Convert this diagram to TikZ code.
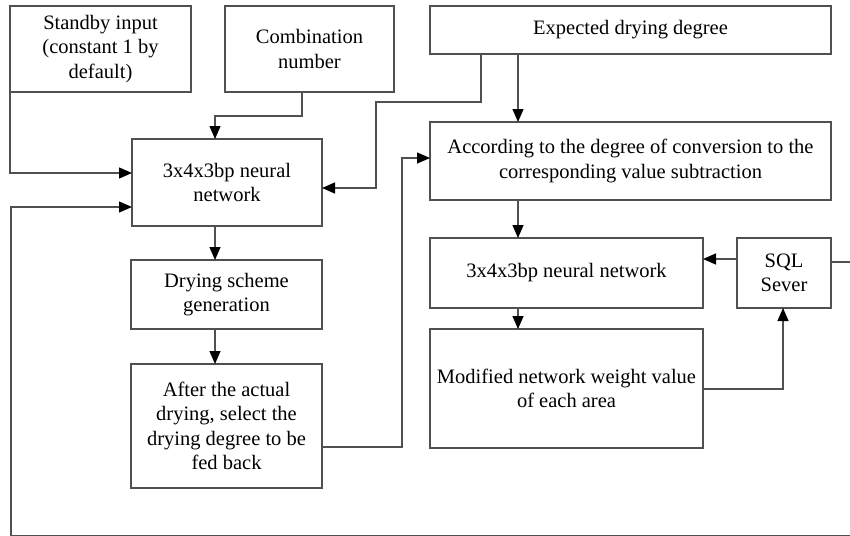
\documentclass[tikz,border=0pt]{standalone}
\usepackage{fontspec}
\setmainfont{Liberation Serif}
\usetikzlibrary{arrows.meta}
\definecolor{ln}{HTML}{505050}
\begin{document}
\begin{tikzpicture}[x=1pt,y=-1pt,
  box/.style={draw=ln, line width=1.3pt, inner sep=0pt, outer sep=0pt, align=center,
    font=\fontsize{20.5}{24.5}\selectfont, text=black},
  arr/.style={draw=ln, line width=1.3pt, -{Triangle[length=13pt,width=11pt,color=black]}},
  ln/.style={draw=ln, line width=1.3pt}]
\useasboundingbox (0,0) rectangle (850,535);
\clip (0,0) rectangle (850,535);
\node[box, minimum width=181pt, minimum height=86pt] (sb) at (100.5,49) {Standby input\\(constant 1 by\\default)};
\node[box, minimum width=169pt, minimum height=86pt] (cn) at (309.5,49) {Combination\\number};
\node[box, minimum width=401pt, minimum height=48pt] (ed) at (630.5,30) {Expected drying degree};
\node[box, minimum width=190pt, minimum height=87pt] (nn1) at (227,182.5) {3x4x3bp neural\\network};
\node[box, minimum width=191pt, minimum height=69pt] (ds) at (226.5,294.5) {Drying scheme\\generation};
\node[box, minimum width=191pt, minimum height=124pt] (af) at (226.5,426) {After the actual\\drying, select the\\drying degree to be\\fed back};
\node[box, minimum width=401pt, minimum height=78pt] (ac) at (630.5,161) {According to the degree of conversion to the\\corresponding value subtraction};
\node[box, minimum width=273pt, minimum height=70pt] (nn2) at (566.5,273) {3x4x3bp neural network};
\node[box, minimum width=273pt, minimum height=119pt] (mo) at (566.5,388.5) {Modified network weight value\\of each area};
\node[box, minimum width=94pt, minimum height=70pt] (sql) at (784,273) {SQL\\Sever};
% helper coordinates
\coordinate (cSB) at (10,173);
\coordinate (cCN) at (302,116);
\coordinate (cCN2) at (215,116);
\coordinate (cD) at (215,0);
\coordinate (cE1) at (481,102);
\coordinate (cE2) at (376,188);
\coordinate (cX) at (518,0);
\coordinate (cA1) at (402,447);
\coordinate (cA2) at (402,158);
\coordinate (cM) at (783,389);
\coordinate (cS) at (0,259);
\coordinate (cR) at (880,262);
\coordinate (cBot) at (11,535.6);
\coordinate (cL) at (0,207);
% connectors
\draw[arr] (sb.south west) |- (nn1.west |- cSB);
\draw[arr] (cn.south -| cCN) -- (cCN) -- (cCN2) -- (nn1.north -| cCN2);
\draw[arr] (ed.south -| cE1) -- (cE1) -| (cE2) -- (nn1.east |- cE2);
\draw[arr] (ed.south -| cX) -- (ac.north -| cX);
\draw[arr] (ac.south -| cX) -- (nn2.north -| cX);
\draw[arr] (nn2.south -| cX) -- (mo.north -| cX);
\draw[arr] (nn1.south -| cD) -- (ds.north -| cD);
\draw[arr] (ds.south -| cD) -- (af.north -| cD);
\draw[arr] (af.east |- cA1) -| (cA2) -- (ac.west |- cA2);
\draw[arr] (mo.east |- cM) -| (sql.south -| cM);
\draw[arr] (sql.west |- cS) -- (nn2.east |- cS);
\draw[arr] (sql.east |- cR) -- (cR) |- (cBot) |- (nn1.west |- cL);
\end{tikzpicture}
\end{document}
